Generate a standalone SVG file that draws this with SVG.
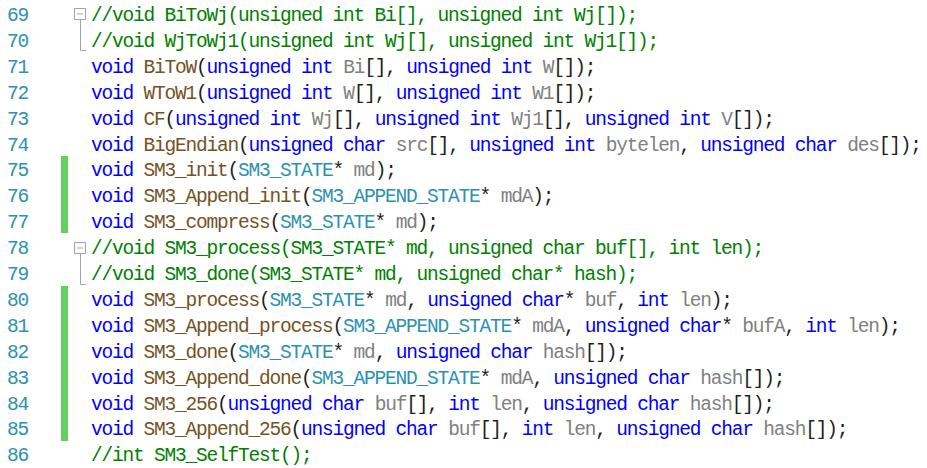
<svg xmlns="http://www.w3.org/2000/svg" width="927" height="468" viewBox="0 0 927 468">
<style>
text{font-family:"Liberation Mono","DejaVu Sans Mono",monospace;font-size:19.5px;letter-spacing:-1.2px;white-space:pre;fill:#1e1e1e}
.n{fill:#2b91af}
.k{fill:#0000ff}
.f{fill:#74531f}
.t{fill:#2b91af}
.p{fill:#808080}
.c{fill:#008000}
.bar{fill:#62cf5e}
.fold{fill:#fff;stroke:#a5a5a5;stroke-width:1}
.fl{fill:none;stroke:#a5a5a5;stroke-width:1}
</style>
<rect width="927" height="468" fill="#fff"/>
<g id="bars">
<rect class="bar" x="61" y="156" width="7" height="77"/>
<rect class="bar" x="61" y="286" width="7" height="155"/>
</g>
<g id="folds">
<rect class="fold" x="74.5" y="8.5" width="11" height="11"/>
<line class="fl" x1="77" y1="14" x2="83" y2="14"/>
<polyline class="fl" points="80.5,20 80.5,50.5 86,50.5"/>
<rect class="fold" x="74.5" y="242.5" width="11" height="11"/>
<line class="fl" x1="77" y1="248" x2="83" y2="248"/>
<polyline class="fl" points="80.5,254 80.5,284.5 86,284.5"/>
</g>
<g id="numbers" class="n">
<text class="n" x="7" y="21">69</text>
<text class="n" x="7" y="46.9">70</text>
<text class="n" x="7" y="72.8">71</text>
<text class="n" x="7" y="98.7">72</text>
<text class="n" x="7" y="124.6">73</text>
<text class="n" x="7" y="150.5">74</text>
<text class="n" x="7" y="176.4">75</text>
<text class="n" x="7" y="202.3">76</text>
<text class="n" x="7" y="228.2">77</text>
<text class="n" x="7" y="254.1">78</text>
<text class="n" x="7" y="280">79</text>
<text class="n" x="7" y="305.9">80</text>
<text class="n" x="7" y="331.8">81</text>
<text class="n" x="7" y="357.7">82</text>
<text class="n" x="7" y="383.6">83</text>
<text class="n" x="7" y="409.5">84</text>
<text class="n" x="7" y="435.4">85</text>
<text class="n" x="7" y="461.3">86</text>
</g>
<g id="code">
<text x="91" y="21" class="c">//void BiToWj(unsigned int Bi[], unsigned int Wj[]);</text>
<text x="91" y="46.9" class="c">//void WjToWj1(unsigned int Wj[], unsigned int Wj1[]);</text>
<text x="91" y="72.8"><tspan class="k">void</tspan> <tspan class="f">BiToW</tspan>(<tspan class="k">unsigned</tspan> <tspan class="k">int</tspan> <tspan class="p">Bi</tspan>[], <tspan class="k">unsigned</tspan> <tspan class="k">int</tspan> <tspan class="p">W</tspan>[]);</text>
<text x="91" y="98.7"><tspan class="k">void</tspan> <tspan class="f">WToW1</tspan>(<tspan class="k">unsigned</tspan> <tspan class="k">int</tspan> <tspan class="p">W</tspan>[], <tspan class="k">unsigned</tspan> <tspan class="k">int</tspan> <tspan class="p">W1</tspan>[]);</text>
<text x="91" y="124.6"><tspan class="k">void</tspan> <tspan class="f">CF</tspan>(<tspan class="k">unsigned</tspan> <tspan class="k">int</tspan> <tspan class="p">Wj</tspan>[], <tspan class="k">unsigned</tspan> <tspan class="k">int</tspan> <tspan class="p">Wj1</tspan>[], <tspan class="k">unsigned</tspan> <tspan class="k">int</tspan> <tspan class="p">V</tspan>[]);</text>
<text x="91" y="150.5"><tspan class="k">void</tspan> <tspan class="f">BigEndian</tspan>(<tspan class="k">unsigned</tspan> <tspan class="k">char</tspan> <tspan class="p">src</tspan>[], <tspan class="k">unsigned</tspan> <tspan class="k">int</tspan> <tspan class="p">bytelen</tspan>, <tspan class="k">unsigned</tspan> <tspan class="k">char</tspan> <tspan class="p">des</tspan>[]);</text>
<text x="91" y="176.4"><tspan class="k">void</tspan> <tspan class="f">SM3_init</tspan>(<tspan class="t">SM3_STATE</tspan>* <tspan class="p">md</tspan>);</text>
<text x="91" y="202.3"><tspan class="k">void</tspan> <tspan class="f">SM3_Append_init</tspan>(<tspan class="t">SM3_APPEND_STATE</tspan>* <tspan class="p">mdA</tspan>);</text>
<text x="91" y="228.2"><tspan class="k">void</tspan> <tspan class="f">SM3_compress</tspan>(<tspan class="t">SM3_STATE</tspan>* <tspan class="p">md</tspan>);</text>
<text x="91" y="254.1" class="c">//void SM3_process(SM3_STATE* md, unsigned char buf[], int len);</text>
<text x="91" y="280" class="c">//void SM3_done(SM3_STATE* md, unsigned char* hash);</text>
<text x="91" y="305.9"><tspan class="k">void</tspan> <tspan class="f">SM3_process</tspan>(<tspan class="t">SM3_STATE</tspan>* <tspan class="p">md</tspan>, <tspan class="k">unsigned</tspan> <tspan class="k">char</tspan>* <tspan class="p">buf</tspan>, <tspan class="k">int</tspan> <tspan class="p">len</tspan>);</text>
<text x="91" y="331.8"><tspan class="k">void</tspan> <tspan class="f">SM3_Append_process</tspan>(<tspan class="t">SM3_APPEND_STATE</tspan>* <tspan class="p">mdA</tspan>, <tspan class="k">unsigned</tspan> <tspan class="k">char</tspan>* <tspan class="p">bufA</tspan>, <tspan class="k">int</tspan> <tspan class="p">len</tspan>);</text>
<text x="91" y="357.7"><tspan class="k">void</tspan> <tspan class="f">SM3_done</tspan>(<tspan class="t">SM3_STATE</tspan>* <tspan class="p">md</tspan>, <tspan class="k">unsigned</tspan> <tspan class="k">char</tspan> <tspan class="p">hash</tspan>[]);</text>
<text x="91" y="383.6"><tspan class="k">void</tspan> <tspan class="f">SM3_Append_done</tspan>(<tspan class="t">SM3_APPEND_STATE</tspan>* <tspan class="p">mdA</tspan>, <tspan class="k">unsigned</tspan> <tspan class="k">char</tspan> <tspan class="p">hash</tspan>[]);</text>
<text x="91" y="409.5"><tspan class="k">void</tspan> <tspan class="f">SM3_256</tspan>(<tspan class="k">unsigned</tspan> <tspan class="k">char</tspan> <tspan class="p">buf</tspan>[], <tspan class="k">int</tspan> <tspan class="p">len</tspan>, <tspan class="k">unsigned</tspan> <tspan class="k">char</tspan> <tspan class="p">hash</tspan>[]);</text>
<text x="91" y="435.4"><tspan class="k">void</tspan> <tspan class="f">SM3_Append_256</tspan>(<tspan class="k">unsigned</tspan> <tspan class="k">char</tspan> <tspan class="p">buf</tspan>[], <tspan class="k">int</tspan> <tspan class="p">len</tspan>, <tspan class="k">unsigned</tspan> <tspan class="k">char</tspan> <tspan class="p">hash</tspan>[]);</text>
<text x="91" y="461.3" class="c">//int SM3_SelfTest();</text>
</g>
</svg>
